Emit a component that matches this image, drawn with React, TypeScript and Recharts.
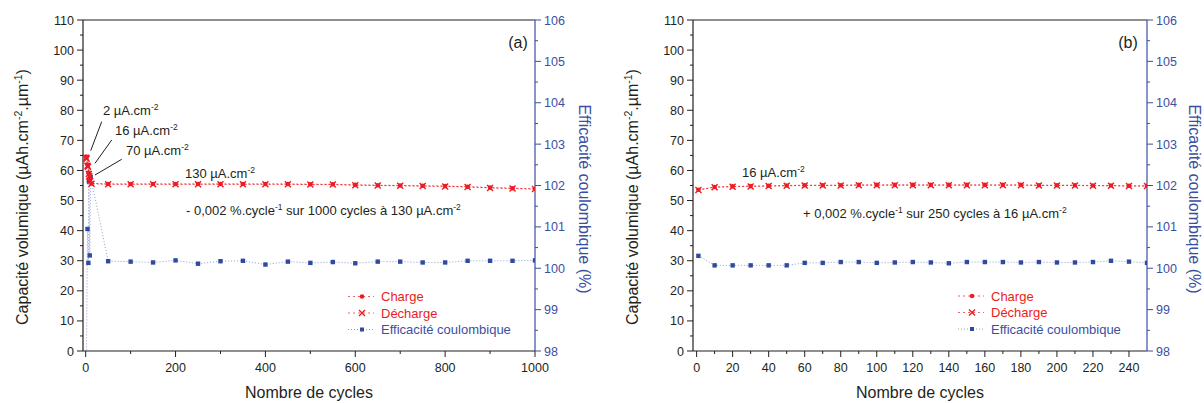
import React from 'react';
import { ComposedChart, Line, XAxis, YAxis, ReferenceLine } from 'recharts';

const RED = '#ec1c24';
const BLUE = '#3b4fa2';
const BLUE_DOT = '#2f4a9e';
const BLUE_LINE = '#8f9dd2';
const INK = '#231f20';
const FONT = '"Liberation Sans", Arial, Helvetica, sans-serif';

// ---- (a) 1000 cycles ----
const startCyclesA = [1, 2, 4, 5, 7, 8, 10, 13];
const startChargeA = [64.6, 64.3, 62.0, 61.6, 59.3, 58.6, 56.9, 55.7];
const startDischargeA = [64.2, 63.9, 61.6, 61.2, 58.8, 58.1, 56.5, 55.6];
const longCyclesA = [50, 100, 150, 200, 250, 300, 350, 400, 450, 500, 550, 600, 650, 700, 750, 800, 850, 900, 950, 1000];
const longChargeA = [55.5, 55.5, 55.5, 55.5, 55.5, 55.5, 55.5, 55.5, 55.5, 55.4, 55.4, 55.2, 55.1, 55.0, 54.9, 54.8, 54.6, 54.3, 54.1, 53.9];
const longDischargeA = [55.4, 55.4, 55.4, 55.4, 55.4, 55.4, 55.4, 55.4, 55.4, 55.3, 55.3, 55.1, 55.0, 54.9, 54.8, 54.7, 54.5, 54.2, 54.0, 53.8];
const effStartCyclesA = [1, 4, 6, 7, 9, 11];
const effStartA = [97.0, 100.95, 100.13, 102.11, 100.31, 102.21];
const effLongA = [100.17, 100.16, 100.14, 100.19, 100.11, 100.17, 100.18, 100.09, 100.16, 100.13, 100.15, 100.12, 100.16, 100.16, 100.14, 100.14, 100.18, 100.18, 100.18, 100.19];

// ---- (b) 250 cycles ----
const cyclesB = [1, 10, 20, 30, 40, 50, 60, 70, 80, 90, 100, 110, 120, 130, 140, 150, 160, 170, 180, 190, 200, 210, 220, 230, 240, 250];
const chargeB = [53.6, 54.5, 54.7, 54.8, 54.9, 55.0, 55.1, 55.1, 55.1, 55.2, 55.2, 55.2, 55.2, 55.2, 55.2, 55.2, 55.2, 55.2, 55.2, 55.1, 55.1, 55.1, 55.0, 55.0, 54.9, 54.9];
const dischargeB = [53.5, 54.4, 54.6, 54.7, 54.8, 54.9, 55.0, 55.0, 55.0, 55.1, 55.1, 55.1, 55.1, 55.1, 55.1, 55.1, 55.1, 55.1, 55.1, 55.0, 55.0, 55.0, 54.9, 54.9, 54.8, 54.8];
const effB = [100.30, 100.07, 100.07, 100.07, 100.07, 100.07, 100.13, 100.13, 100.15, 100.15, 100.13, 100.14, 100.15, 100.14, 100.12, 100.15, 100.15, 100.15, 100.14, 100.15, 100.14, 100.14, 100.15, 100.18, 100.16, 100.13];

// ---- axis ticks ----
const capTicks = [0, 5, 10, 15, 20, 25, 30, 35, 40, 45, 50, 55, 60, 65, 70, 75, 80, 85, 90, 95, 100, 105, 110];
const effTicks = [98, 98.5, 99, 99.5, 100, 100.5, 101, 101.5, 102, 102.5, 103, 103.5, 104, 104.5, 105, 105.5, 106];
const cycleTicksA = [0, 100, 200, 300, 400, 500, 600, 700, 800, 900, 1000];
const cycleTicksB = [0, 10, 20, 30, 40, 50, 60, 70, 80, 90, 100, 110, 120, 130, 140, 150, 160, 170, 180, 190, 200, 210, 220, 230, 240];

const pts = (xs: number[], ys: number[]) => xs.map((c, i) => ({ cycle: c, v: ys[i] }));

const chargeA = pts([...startCyclesA, ...longCyclesA], [...startChargeA, ...longChargeA]);
const dischargeA = pts([...startCyclesA, ...longCyclesA], [...startDischargeA, ...longDischargeA]);
const effA = pts([...effStartCyclesA, ...longCyclesA], [...effStartA, ...effLongA]);
const chargeBData = pts(cyclesB, chargeB);
const dischargeBData = pts(cyclesB, dischargeB);
const effBData = pts(cyclesB, effB);

const dotCircle = (p: any) => <circle key={`c${p.index}`} cx={p.cx} cy={p.cy} r={2.3} fill={RED} />;
const dotCross = (p: any) => (
  <path
    key={`x${p.index}`}
    d={`M${p.cx - 3},${p.cy - 3}L${p.cx + 3},${p.cy + 3}M${p.cx - 3},${p.cy + 3}L${p.cx + 3},${p.cy - 3}`}
    stroke={RED}
    strokeWidth={1.4}
  />
);
const dotSquare = (p: any) =>
  p.payload.v < 98 ? <g key={`s${p.index}`} /> : (
    <rect key={`s${p.index}`} x={p.cx - 2.2} y={p.cy - 2.2} width={4.4} height={4.4} fill={BLUE_DOT} />
  );

// tick with major / minor marks, drawn outward from the axis line
const AxisTick = ({ x, y, payload, side, isMajor, color }: any) => {
  const v = payload.value;
  const major = isMajor(v);
  const len = major ? 6 : 3;
  if (side === 'left') {
    return (
      <g>
        <line x1={x} y1={y} x2={x - len} y2={y} stroke={color} />
        {major && <text x={x - 9} y={y + 4.5} textAnchor="end" fontSize={12.5} fill={color} fontFamily={FONT}>{v}</text>}
      </g>
    );
  }
  if (side === 'right') {
    return (
      <g>
        <line x1={x} y1={y} x2={x + len} y2={y} stroke={color} />
        {major && <text x={x + 9} y={y + 4.5} textAnchor="start" fontSize={12.5} fill={color} fontFamily={FONT}>{v}</text>}
      </g>
    );
  }
  return (
    <g>
      <line x1={x} y1={y} x2={x} y2={y + len} stroke={color} />
      {major && <text x={x} y={y + 21} textAnchor="middle" fontSize={12.5} fill={color} fontFamily={FONT}>{v}</text>}
    </g>
  );
};

interface PanelProps {
  charge: any[];
  discharge: any[];
  eff: any[];
  xDomain: [number, number];
  xTicks: number[];
  xMajor: (v: number) => boolean;
  width: number;
  leftW: number;
  rightW: number;
}

const Panel = ({ charge, discharge, eff, xDomain, xTicks, xMajor, width, leftW, rightW }: PanelProps) => (
  <ComposedChart width={width} height={403} margin={{ top: 20, right: 0, bottom: 0, left: 0 }}>
    <XAxis
      type="number"
      dataKey="cycle"
      domain={xDomain}
      ticks={xTicks}
      interval={0}
      allowDataOverflow
      height={52}
      tickSize={0}
      tickMargin={0}
      tickLine={false}
      axisLine={{ stroke: INK, strokeWidth: 1.2 }}
      tick={(p: any) => <AxisTick {...p} side="bottom" isMajor={xMajor} color={INK} />}
    />
    <YAxis
      yAxisId="cap"
      orientation="left"
      domain={[0, 110]}
      ticks={capTicks}
      interval={0}
      width={leftW}
      tickSize={0}
      tickMargin={0}
      tickLine={false}
      axisLine={{ stroke: INK, strokeWidth: 1.2 }}
      tick={(p: any) => <AxisTick {...p} side="left" isMajor={(v: number) => v % 10 === 0} color={INK} />}
    />
    <YAxis
      yAxisId="eff"
      orientation="right"
      domain={[98, 106]}
      ticks={effTicks}
      interval={0}
      allowDataOverflow
      width={rightW}
      tickSize={0}
      tickMargin={0}
      tickLine={false}
      axisLine={{ stroke: BLUE, strokeWidth: 1.2 }}
      tick={(p: any) => <AxisTick {...p} side="right" isMajor={(v: number) => Number.isInteger(v)} color={BLUE} />}
    />
    <ReferenceLine yAxisId="cap" y={110} stroke={INK} strokeWidth={1.2} />
    <Line yAxisId="eff" data={eff} dataKey="v" type="linear" stroke={BLUE_LINE} strokeWidth={1} strokeDasharray="1 2" dot={dotSquare} isAnimationActive={false} />
    <Line yAxisId="cap" data={discharge} dataKey="v" type="linear" stroke={RED} strokeOpacity={0.7} strokeWidth={1} strokeDasharray="2 2" dot={dotCross} isAnimationActive={false} />
    <Line yAxisId="cap" data={charge} dataKey="v" type="linear" stroke={RED} strokeOpacity={0.7} strokeWidth={1} strokeDasharray="2 2" dot={dotCircle} isAnimationActive={false} />
  </ComposedChart>
);

const Sup = ({ children, size = 8.5, up = 5 }: any) => (
  <tspan dy={-up} fontSize={size}>{children}</tspan>
);

const LegendBlock = ({ x, y }: { x: number; y: number }) => (
  <g fontFamily={FONT} fontSize={13}>
    <line x1={x} y1={y} x2={x + 26} y2={y} stroke={RED} strokeDasharray="2 3" strokeOpacity={0.7} />
    <circle cx={x + 14} cy={y} r={2.3} fill={RED} />
    <text x={x + 33} y={y + 4.5} fill={RED}>Charge</text>
    <line x1={x} y1={y + 16.5} x2={x + 26} y2={y + 16.5} stroke={RED} strokeDasharray="2 3" strokeOpacity={0.7} />
    <path d={`M${x + 11},${y + 13.5}L${x + 17},${y + 19.5}M${x + 11},${y + 19.5}L${x + 17},${y + 13.5}`} stroke={RED} strokeWidth={1.4} />
    <text x={x + 33} y={y + 21} fill={RED}>Décharge</text>
    <line x1={x} y1={y + 33} x2={x + 26} y2={y + 33} stroke={BLUE_LINE} strokeDasharray="1 2" />
    <rect x={x + 12} y={y + 31} width={4} height={4} fill={BLUE_DOT} />
    <text x={x + 33} y={y + 37.5} fill={BLUE}>Efficacité coulombique</text>
  </g>
);

const Titles = ({ plotL, plotR, capX, effX }: any) => {
  const cx = (plotL + plotR) / 2;
  return (
    <g fontFamily={FONT}>
      <text x={cx} y={398} textAnchor="middle" fontSize={16} fill={INK}>Nombre de cycles</text>
      <text transform={`translate(${capX + 5.8},197) rotate(-90)`} textAnchor="middle" fontSize={16} fill={INK}>
        Capacité volumique (µAh.cm<Sup size={10.5} up={6}>-2</Sup><tspan dy={6}>.µm</tspan><Sup size={10.5} up={6}>-1</Sup><tspan dy={6}>)</tspan>
      </text>
      <text transform={`translate(${effX - 5.8},199) rotate(90)`} textAnchor="middle" fontSize={16} fill={BLUE}>
        Efficacité coulombique (%)
      </text>
    </g>
  );
};

export default function App() {
  return (
    <div style={{ position: 'fixed', left: 0, top: 0, width: 1204, height: 403, background: '#fff', overflow: 'hidden' }}>
      <div style={{ position: 'absolute', left: 0, top: 0 }}>
        <Panel
          charge={chargeA}
          discharge={dischargeA}
          eff={effA}
          xDomain={[-6, 1000]}
          xTicks={cycleTicksA}
          xMajor={(v: number) => v % 200 === 0}
          width={602}
          leftW={83}
          rightW={67}
        />
      </div>
      <div style={{ position: 'absolute', left: 610, top: 0 }}>
        <Panel
          charge={chargeBData}
          discharge={dischargeBData}
          eff={effBData}
          xDomain={[-2, 250]}
          xTicks={cycleTicksB}
          xMajor={(v: number) => v % 20 === 0}
          width={594}
          leftW={83}
          rightW={57}
        />
      </div>
      <svg width={1204} height={403} style={{ position: 'absolute', left: 0, top: 0, pointerEvents: 'none' }}>
        <Titles plotL={83} plotR={535} capX={22} effX={585} />
        <Titles plotL={693} plotR={1147} capX={632} effX={1195} />

        {/* (a) annotations */}
        <g fontFamily={FONT} fontSize={13} fill={INK}>
          <text x={518} y={48} textAnchor="middle" fontSize={16}>(a)</text>
          <text x={103} y={115}>2 µA.cm<Sup>-2</Sup></text>
          <line x1={90.7} y1={150.7} x2={101.7} y2={121.7} stroke={INK} />
          <text x={115} y={135}>16 µA.cm<Sup>-2</Sup></text>
          <line x1={95} y1={163.3} x2={111.7} y2={140} stroke={INK} />
          <text x={126} y={155}>70 µA.cm<Sup>-2</Sup></text>
          <line x1={95} y1={175} x2={121.7} y2={159.3} stroke={INK} />
          <text x={185} y={178}>130 µA.cm<Sup>-2</Sup></text>
          <text x={186} y={215}>
            - 0,002 %.cycle<Sup>-1</Sup><tspan dy={5}> sur 1000 cycles à 130 µA.cm</tspan><Sup>-2</Sup>
          </text>
        </g>
        <LegendBlock x={348} y={296.5} />

        {/* (b) annotations */}
        <g fontFamily={FONT} fontSize={13} fill={INK}>
          <text x={1128} y={48} textAnchor="middle" fontSize={16}>(b)</text>
          <text x={742} y={177}>16 µA.cm<Sup>-2</Sup></text>
          <text x={803} y={218}>
            + 0,002 %.cycle<Sup>-1</Sup><tspan dy={5}> sur 250 cycles à 16 µA.cm</tspan><Sup>-2</Sup>
          </text>
        </g>
        <LegendBlock x={958} y={296} />
      </svg>
    </div>
  );
}
